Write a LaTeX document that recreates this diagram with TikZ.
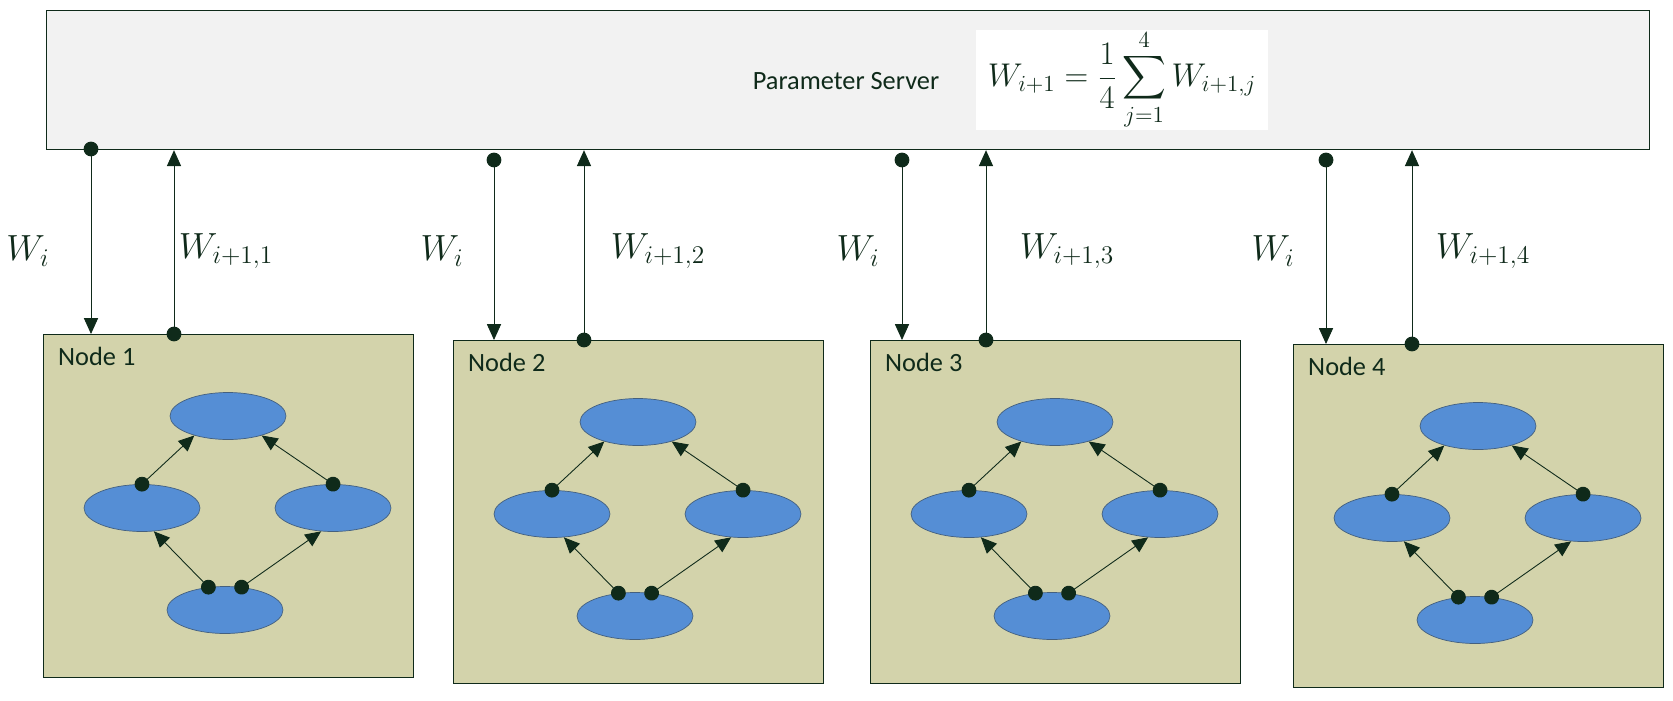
\documentclass[tikz,border=0pt]{standalone}
\usepackage{fix-cm}
\usepackage{amsmath}
\usepackage{fontspec}
\setmainfont{Carlito}
\usepackage{tikz}
\usetikzlibrary{arrows.meta, shapes.geometric, positioning}

\definecolor{ink}{HTML}{0F2A1A}
\definecolor{servfill}{HTML}{F2F2F2}
\definecolor{nodefill}{HTML}{D3D3AB}
\definecolor{unitfill}{HTML}{558ED5}
\definecolor{unitline}{HTML}{44607F}

\begin{document}
\begin{tikzpicture}[
  x=0.02cm, y=-0.02cm,
  every node/.style={text=ink},
  server/.style={rectangle, draw=ink, fill=servfill, line width=0.7pt,
                 minimum width=32.06cm, minimum height=2.78cm, inner sep=0pt, anchor=north west},
  worker/.style={rectangle, draw=ink, fill=nodefill, line width=0.7pt,
                 minimum width=7.4cm, minimum height=6.86cm, inner sep=0pt, anchor=north west},
  unit/.style={ellipse, draw=unitline, fill=unitfill, line width=0.4pt,
               minimum width=2.32cm, minimum height=0.94cm, inner sep=0pt},
  link/.style={draw=ink, line width=0.5pt, shorten <=-4.2pt,
               {Circle[length=8.4pt]}-{Triangle[length=9pt, width=8pt]}},
  wlabel/.style={font=\fontsize{20.7}{22}\selectfont},
  tlabel/.style={font=\fontsize{15}{18}\selectfont},
]
\useasboundingbox (0,0) rectangle (1673,700);

% Parameter server
\node[server] (server) at (46,10) {};
\node[tlabel] (pstext) at (846,81) {Parameter Server};
\node[rectangle, fill=white, minimum width=5.84cm, minimum height=1.9cm, inner sep=0pt,
      font=\fontsize{18.7}{20}\selectfont] (avg) at (1122,80)
  {$\displaystyle W_{i+1} = \frac{1}{4}\sum_{j=1}^{4} W_{i+1,j}$};

% Worker nodes
\foreach \k/\bx/\by in {1/43/334, 2/453/340, 3/870/340, 4/1293/344} {
  \node[worker] (box\k) at (\bx,\by) {};
  \node[tlabel, anchor=west] (name\k) at ([shift={(9,22)}]box\k.north west) {Node \k};
  \node[unit] (top\k)   at ([shift={(185,82)}]box\k.north west) {};
  \node[unit] (left\k)  at ([shift={(99,174)}]box\k.north west) {};
  \node[unit] (right\k) at ([shift={(290,174)}]box\k.north west) {};
  \node[unit] (bot\k)   at ([shift={(182,276)}]box\k.north west) {};
  \draw[link] (left\k.north) -- (top\k.210);
  \draw[link] (right\k.north) -- (top\k.330);
  \draw[link] (bot\k.126) -- (left\k.297);
  \draw[link] (bot\k.54) -- (right\k.243);
}

% Weights down and updates up
\foreach \k/\dx/\ux/\dy/\wx/\nx in {1/91/174/149/28/226, 2/494/584/160/442/658,
                                   3/902/986/160/858/1067, 4/1326/1412/160/1273/1483} {
  \coordinate (send\k) at (\dx,\dy);
  \coordinate (recv\k) at (\ux,0);
  \draw[link] (send\k) -- (send\k |- box\k.north);
  \draw[link] (recv\k |- box\k.north) -- (recv\k |- server.south);
  \node[wlabel] (wi\k) at (\wx,251) {$W_i$};
  \node[wlabel] (wn\k) at (\nx,251) {$W_{i+1,\k}$};
}
\end{tikzpicture}
\end{document}
